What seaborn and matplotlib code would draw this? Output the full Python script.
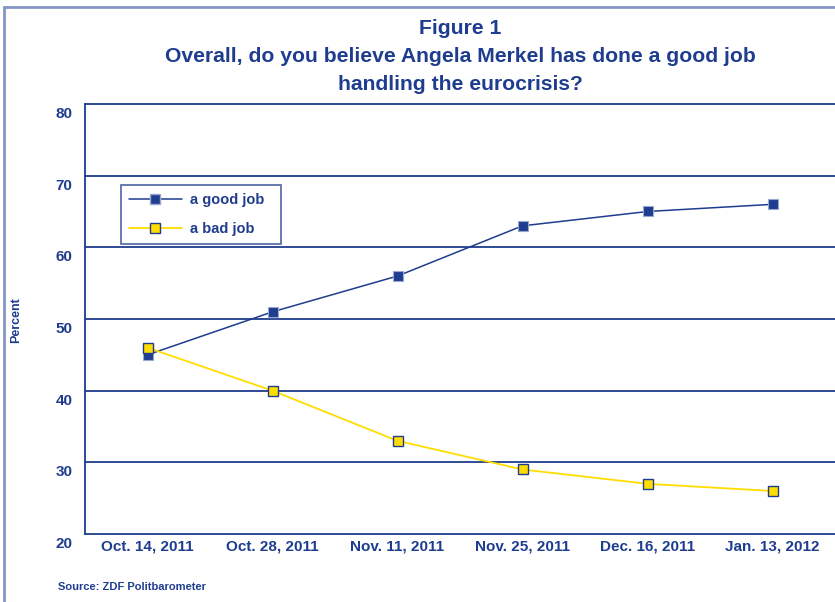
import matplotlib
matplotlib.use("Agg")
import matplotlib.pyplot as plt
import matplotlib.transforms as mtrans
import seaborn as sns
import pandas as pd
from matplotlib.patches import Rectangle
from matplotlib.lines import Line2D

dates = ["Oct. 14, 2011", "Oct. 28, 2011", "Nov. 11, 2011", "Nov. 25, 2011", "Dec. 16, 2011", "Jan. 13, 2012"]
good_job = [45, 51, 56, 63, 65, 66]
bad_job = [46, 40, 33, 29, 27, 26]
series_names = ["a good job", "a bad job"]
yticks = [20, 30, 40, 50, 60, 70, 80]

sns.set_theme(style="white")
plt.rcParams['font.family'] = ['Liberation Sans', 'DejaVu Sans']

NAVY = "#1f3d8f"
YELLOW = "#ffdd00"
FRAME = "#8496c4"

df = pd.DataFrame({
    "date": dates * 2,
    "pos": list(range(len(dates))) * 2,
    "value": good_job + bad_job,
    "series": [series_names[0]] * len(dates) + [series_names[1]] * len(dates),
})

fig = plt.figure(figsize=(8.35, 6.02), dpi=100)
ax = fig.add_axes([85/835, 68/602, 1 - 85/835, (534-104)/602])

sns.lineplot(data=df[df.series == series_names[0]], x="pos", y="value", ax=ax,
             color=NAVY, linewidth=1.1, marker="s", markersize=7,
             markerfacecolor=NAVY, markeredgecolor="#9aa8d0", markeredgewidth=0.8, zorder=4)
sns.lineplot(data=df[df.series == series_names[1]], x="pos", y="value", ax=ax,
             color=YELLOW, linewidth=1.3, marker="s", markersize=7,
             markerfacecolor=YELLOW, markeredgecolor=NAVY, markeredgewidth=1.0, zorder=5)

ax.set_xlim(-0.5, len(dates) - 0.5)
ax.set_ylim(20, 80)
ax.set_yticks(yticks)
ax.set_xticks(range(len(dates)))
ax.set_xticklabels(dates)
for lab in ax.get_xticklabels() + ax.get_yticklabels():
    lab.set_fontweight("bold")
    lab.set_color(NAVY)
    lab.set_fontsize(11)
ax.tick_params(axis="y", length=0, pad=9)
ax.tick_params(axis="x", length=0, pad=4)
shift = mtrans.ScaledTranslation(0, -0.085, fig.dpi_scale_trans)
for lab in ax.get_yticklabels():
    lab.set_transform(lab.get_transform() + shift)
ax.set_xlabel("")
ax.set_ylabel("")

for v in yticks[1:]:
    ax.axhline(v, color=NAVY, linewidth=1.3, zorder=1, clip_on=False)
for s in ["top", "right"]:
    ax.spines[s].set_visible(False)
for s in ["left", "bottom"]:
    ax.spines[s].set_color(NAVY)
    ax.spines[s].set_linewidth(1.3)

handles = [
    Line2D([], [], color=NAVY, linewidth=1.1, marker="s", markersize=7,
           markerfacecolor=NAVY, markeredgecolor="#9aa8d0"),
    Line2D([], [], color=YELLOW, linewidth=1.3, marker="s", markersize=7,
           markerfacecolor=YELLOW, markeredgecolor=NAVY),
]
leg = ax.legend(handles, series_names, loc="upper left",
                bbox_to_anchor=((121-85)/750, (534-185)/430, 160/750, 0), mode="expand",
                borderaxespad=0,
                frameon=True, fancybox=False, edgecolor=NAVY, fontsize=10.5,
                handlelength=3.6, borderpad=0.55, labelspacing=1.05, handletextpad=0.55)
leg.get_frame().set_linewidth(1.2)
for t in leg.get_texts():
    t.set_color(NAVY)
    t.set_fontweight("bold")

fig.text(0.551, 1 - 28/602, "Figure 1", ha="center", va="center",
         fontsize=15.2, fontweight="bold", color=NAVY)
fig.text(0.551, 1 - 56/602, "Overall, do you believe Angela Merkel has done a good job",
         ha="center", va="center", fontsize=15.2, fontweight="bold", color=NAVY)
fig.text(0.551, 1 - 85/602, "handling the eurocrisis?",
         ha="center", va="center", fontsize=15.2, fontweight="bold", color=NAVY)
fig.text(16/835, 1 - 320/602, "Percent", rotation=90, ha="center", va="center",
         fontsize=9, fontweight="bold", color=NAVY)
fig.text(58/835, 1 - 587/602, "Source: ZDF Politbarometer", ha="left", va="center",
         fontsize=8, fontweight="bold", color=NAVY)

fig.patches.append(Rectangle((4/835, -0.05), 1.1, 1 - 7/602 + 0.05, transform=fig.transFigure,
                             fill=False, edgecolor=FRAME, linewidth=2, zorder=0))

fig.savefig("out.png", dpi=100)
